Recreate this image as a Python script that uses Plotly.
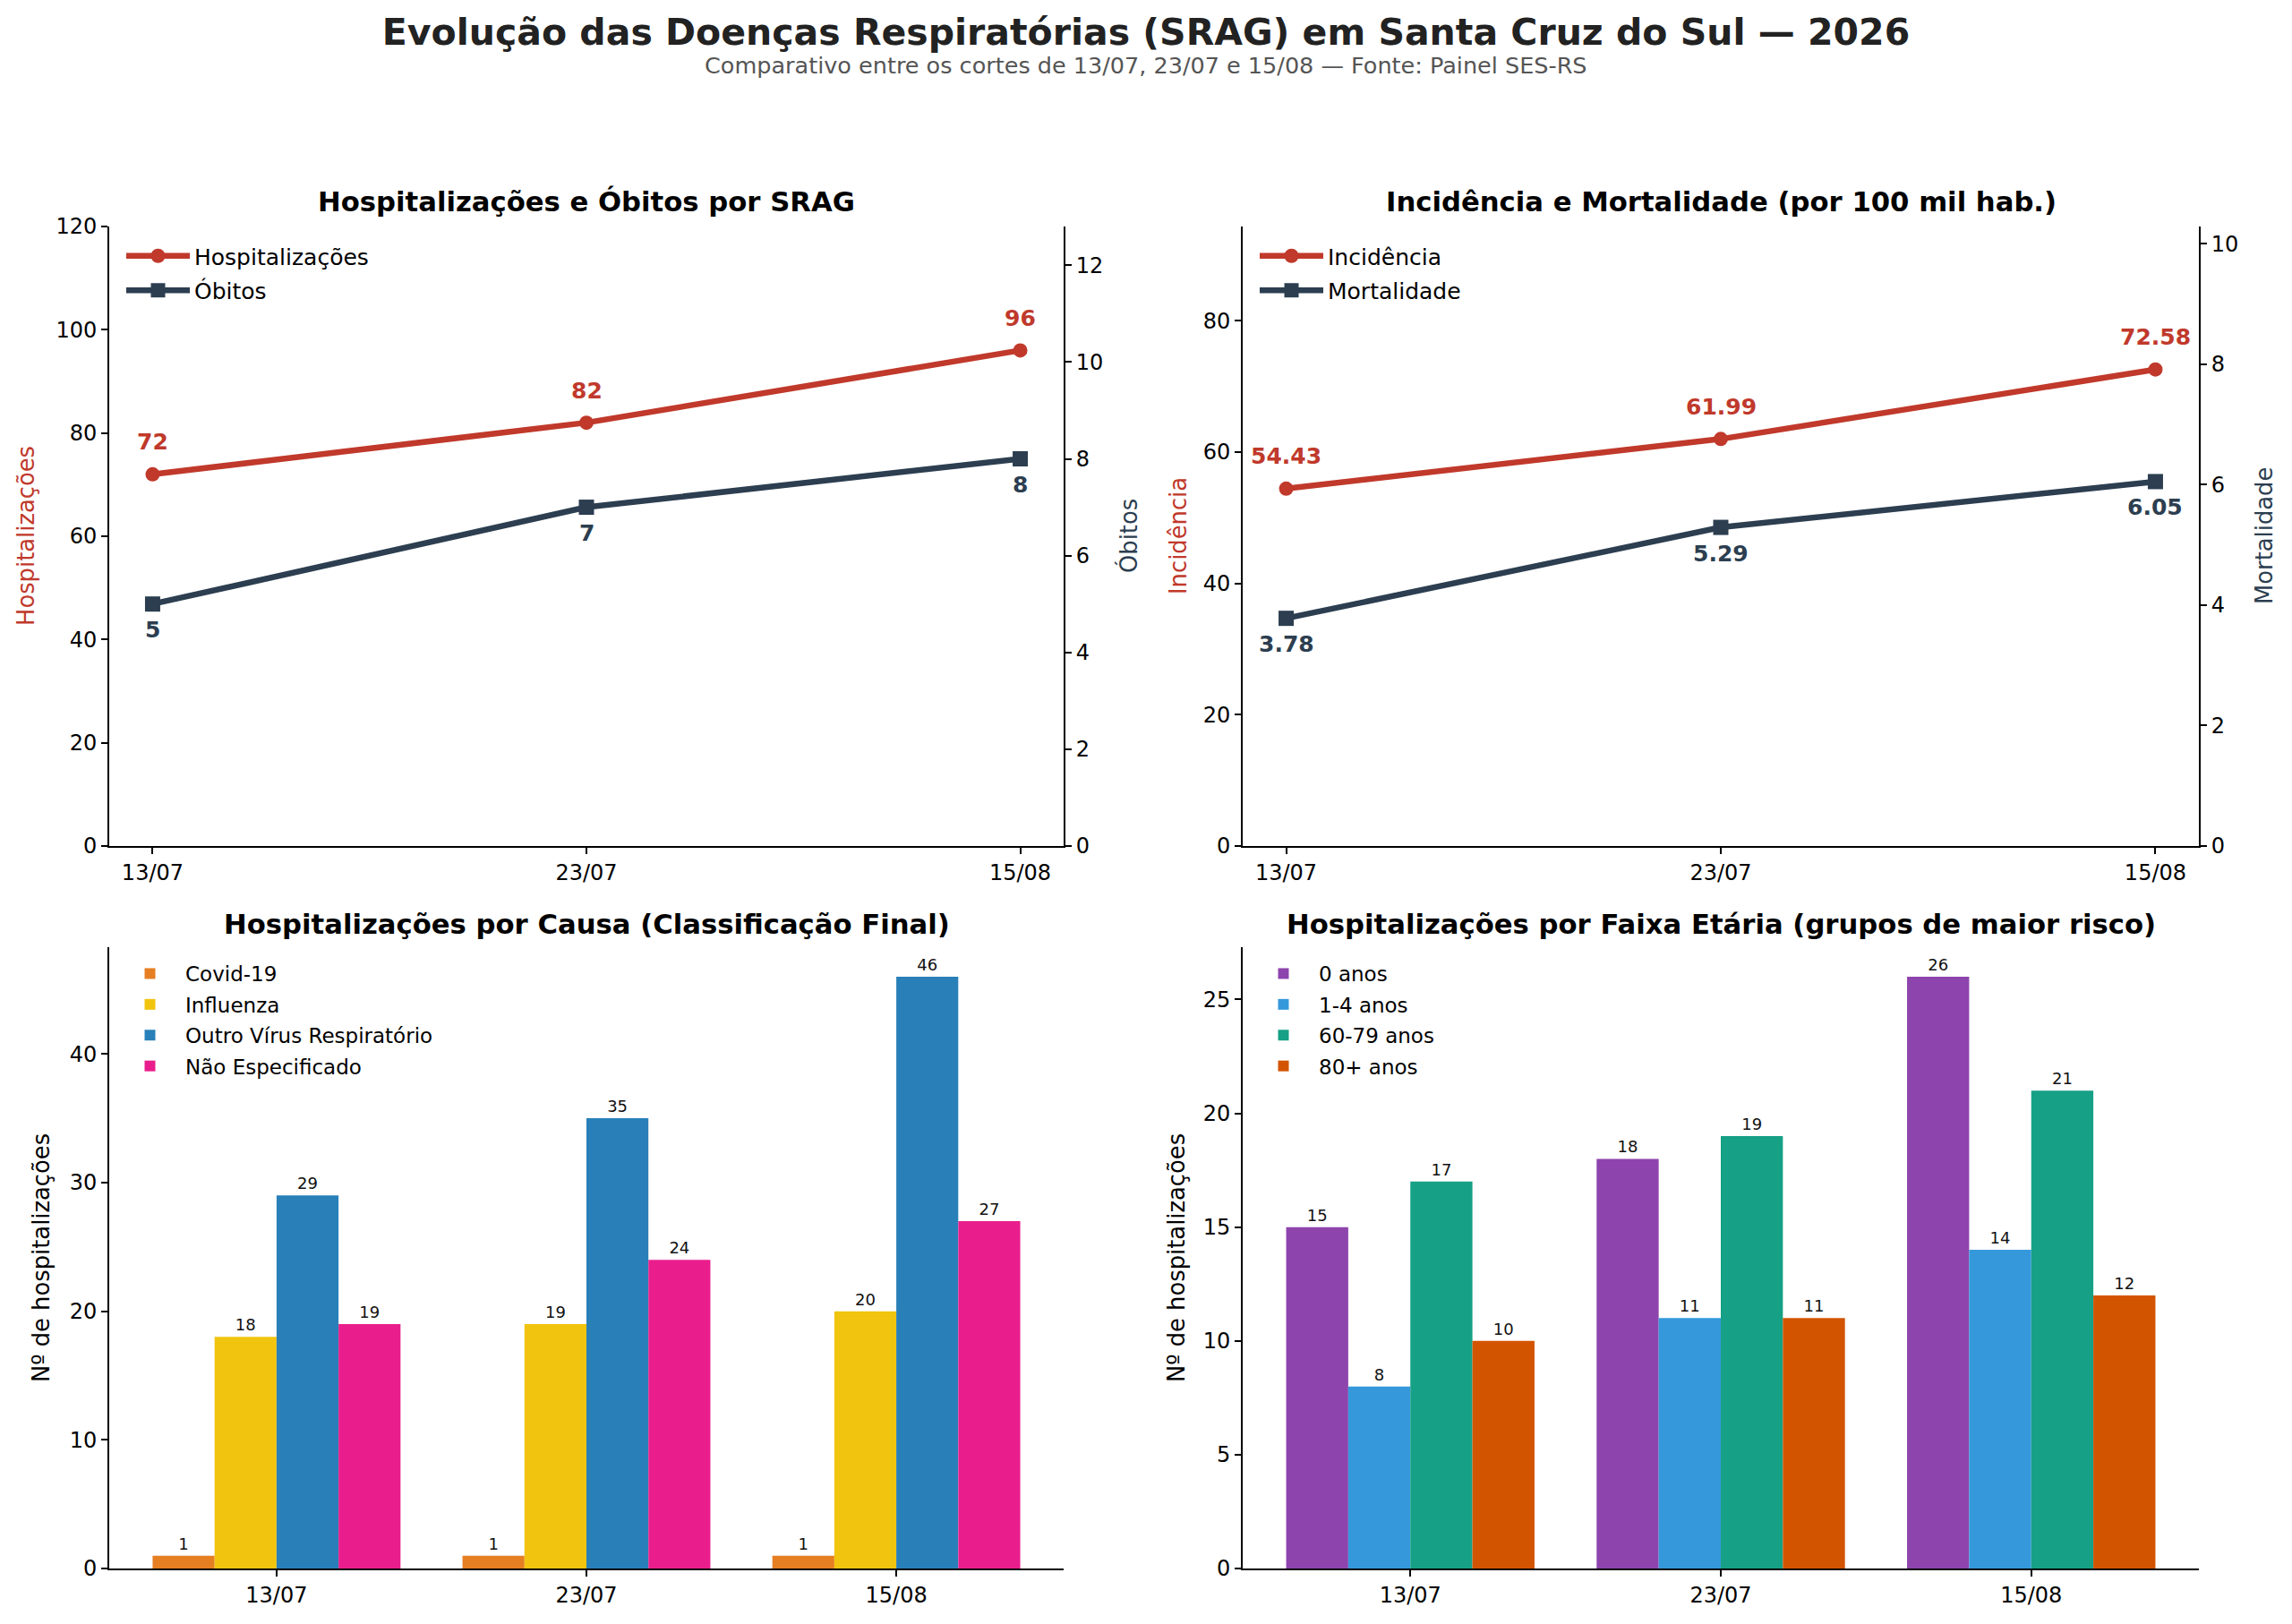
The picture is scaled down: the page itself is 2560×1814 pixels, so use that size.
import plotly.graph_objects as go

# dados dos cortes (Painel SES-RS)
cortes = ["13/07", "23/07", "15/08"]

hospitalizacoes = [72, 82, 96]
obitos = [5, 7, 8]

incidencia = [54.43, 61.99, 72.58]
mortalidade = [3.78, 5.29, 6.05]

causa_nomes = ["Covid-19", "Influenza", "Outro Vírus Respiratório", "Não Especificado"]
covid = [1, 1, 1]
influenza = [18, 19, 20]
outro_virus = [29, 35, 46]
nao_especificado = [19, 24, 27]

faixa_nomes = ["0 anos", "1-4 anos", "60-79 anos", "80+ anos"]
idade_0 = [15, 18, 26]
idade_1_4 = [8, 11, 14]
idade_60_79 = [17, 19, 21]
idade_80 = [10, 11, 12]

W, H = 2560, 1814
FONT = "DejaVu Sans"
RED = "#c0392b"
DARK = "#2c3e50"
causa_cores = ["#e67e22", "#f1c40f", "#2980b9", "#e91e8c"]
faixa_cores = ["#8e44ad", "#3498db", "#16a085", "#d35400"]


def px_x(v):
    return v / W


def px_y(v):
    return 1 - v / H


# dominios dos quatro paineis (em pixels da imagem)
dom_left = [px_x(122), px_x(1188)]
dom_right = [px_x(1388), px_x(2456)]
dom_top = [px_y(945), px_y(253)]
dom_bot = [px_y(1752), px_y(1058)]

fig = go.Figure()

# --- painel 1: hospitalizacoes e obitos
fig.add_scatter(x=cortes, y=hospitalizacoes, name="Hospitalizações", mode="lines+markers",
                line=dict(color=RED, width=6.5), marker=dict(symbol="circle", size=16, color=RED),
                xaxis="x", yaxis="y", legend="legend", legendgroup="a1")
fig.add_scatter(x=cortes, y=obitos, name="Óbitos", mode="lines+markers",
                line=dict(color=DARK, width=6.5), marker=dict(symbol="square", size=17, color=DARK),
                xaxis="x", yaxis="y2", legend="legend", legendgroup="a2")

# --- painel 2: incidencia e mortalidade
fig.add_scatter(x=cortes, y=incidencia, name="Incidência", mode="lines+markers",
                line=dict(color=RED, width=6.5), marker=dict(symbol="circle", size=16, color=RED),
                xaxis="x2", yaxis="y3", legend="legend2", legendgroup="b1")
fig.add_scatter(x=cortes, y=mortalidade, name="Mortalidade", mode="lines+markers",
                line=dict(color=DARK, width=6.5), marker=dict(symbol="square", size=17, color=DARK),
                xaxis="x2", yaxis="y4", legend="legend2", legendgroup="b2")

# --- painel 3: por causa
for nome, vals, cor in zip(causa_nomes, [covid, influenza, outro_virus, nao_especificado], causa_cores):
    fig.add_bar(x=cortes, y=vals, name=nome, marker=dict(color=cor, line=dict(width=0)),
                text=[str(v) for v in vals], textposition="outside", cliponaxis=False,
                textfont=dict(size=18, color="#111111", family=FONT),
                xaxis="x3", yaxis="y5", legend="legend3", legendgroup="c" + nome)

# --- painel 4: por faixa etaria
for nome, vals, cor in zip(faixa_nomes, [idade_0, idade_1_4, idade_60_79, idade_80], faixa_cores):
    fig.add_bar(x=cortes, y=vals, name=nome, marker=dict(color=cor, line=dict(width=0)),
                text=[str(v) for v in vals], textposition="outside", cliponaxis=False,
                textfont=dict(size=18, color="#111111", family=FONT),
                xaxis="x4", yaxis="y6", legend="legend4", legendgroup="d" + nome)

annotations = []

# rotulos de valor nas linhas
for xs, ys, yref, color, shift, fmt in [
    (cortes, hospitalizacoes, "y", RED, 36, "{:d}"),
    (cortes, obitos, "y2", DARK, -29, "{:d}"),
    (cortes, incidencia, "y3", RED, 36, "{:.2f}"),
    (cortes, mortalidade, "y4", DARK, -29, "{:.2f}"),
]:
    xref = "x" if yref in ("y", "y2") else "x2"
    for xv, yv in zip(xs, ys):
        annotations.append(dict(x=xv, y=yv, xref=xref, yref=yref, text=fmt.format(yv),
                                showarrow=False, yshift=shift,
                                font=dict(family=FONT, size=25, color=color, weight="bold")))

# titulos dos paineis
sub_titles = [
    ("Hospitalizações e Óbitos por SRAG", dom_left, 225),
    ("Incidência e Mortalidade (por 100 mil hab.)", dom_right, 225),
    ("Hospitalizações por Causa (Classificação Final)", dom_left, 1032),
    ("Hospitalizações por Faixa Etária (grupos de maior risco)", dom_right, 1032),
]
for txt, dom, ypx in sub_titles:
    annotations.append(dict(x=(dom[0] + dom[1]) / 2, y=px_y(ypx), xref="paper", yref="paper",
                            text="<b>" + txt + "</b>", showarrow=False,
                            xanchor="center", yanchor="middle",
                            font=dict(family=FONT, size=30.7, color="black")))

# titulos dos eixos y
axis_titles = [
    ("Hospitalizações", 29, 599, RED),
    ("Óbitos", 1260, 599, DARK),
    ("Incidência", 1316, 599, RED),
    ("Mortalidade", 2529, 599, DARK),
    ("Nº de hospitalizações", 46, 1405, "black"),
    ("Nº de hospitalizações", 1314, 1405, "black"),
]
for txt, xpx, ypx, color in axis_titles:
    annotations.append(dict(x=px_x(xpx), y=px_y(ypx), xref="paper", yref="paper", text=txt,
                            textangle=-90, showarrow=False, xanchor="center", yanchor="middle",
                            font=dict(family=FONT, size=25.8, color=color)))

# subtitulo
annotations.append(dict(x=0.5, y=px_y(73), xref="paper", yref="paper",
                        text="Comparativo entre os cortes de 13/07, 23/07 e 15/08 — Fonte: Painel SES-RS",
                        showarrow=False, xanchor="center", yanchor="middle",
                        font=dict(family=FONT, size=25.5, color="#555555")))

axis_style = dict(showline=True, linecolor="black", linewidth=1.7, showgrid=False, zeroline=False,
                  ticks="outside", ticklen=7, tickwidth=1.7, tickcolor="black",
                  tickfont=dict(family=FONT, size=24, color="black"))

legend_style = dict(xanchor="left", yanchor="top", bgcolor="rgba(0,0,0,0)", traceorder="grouped")

fig.update_layout(
    width=W, height=H,
    margin=dict(l=0, r=0, t=0, b=0, autoexpand=False),
    paper_bgcolor="white", plot_bgcolor="white",
    font=dict(family=FONT, color="black"),
    title=dict(text="<b>Evolução das Doenças Respiratórias (SRAG) em Santa Cruz do Sul — 2026</b>",
               x=0.5, xanchor="center", y=px_y(36), yanchor="middle", yref="container",
               font=dict(family=FONT, size=41, color="#222222")),
    barmode="group", bargap=0.2, bargroupgap=0,
    annotations=annotations,
    xaxis=dict(domain=dom_left, anchor="y", range=[-0.1, 2.1], **axis_style),
    yaxis=dict(domain=dom_top, anchor="x", range=[0, 120], dtick=20, **axis_style),
    yaxis2=dict(overlaying="y", side="right", anchor="x", range=[0, 12.8], dtick=2, **axis_style),
    xaxis2=dict(domain=dom_right, anchor="y3", range=[-0.1, 2.1], **axis_style),
    yaxis3=dict(domain=dom_top, anchor="x2", range=[0, 94.35], dtick=20, **axis_style),
    yaxis4=dict(overlaying="y3", side="right", anchor="x2", range=[0, 10.285], dtick=2, **axis_style),
    xaxis3=dict(domain=dom_left, anchor="y5", range=[-0.54, 2.54], **axis_style),
    yaxis5=dict(domain=dom_bot, anchor="x3", range=[0, 48.3], dtick=10, **axis_style),
    xaxis4=dict(domain=dom_right, anchor="y6", range=[-0.54, 2.54], **axis_style),
    yaxis6=dict(domain=dom_bot, anchor="x4", range=[0, 27.3], dtick=5, **axis_style),
    legend=dict(x=px_x(136), y=px_y(263), font=dict(family=FONT, size=25), itemwidth=71,
                tracegroupgap=3, **legend_style),
    legend2=dict(x=px_x(1402), y=px_y(263), font=dict(family=FONT, size=25), itemwidth=71,
                 tracegroupgap=3, **legend_style),
    legend3=dict(x=px_x(128), y=px_y(1066), font=dict(family=FONT, size=23), itemwidth=69,
                 tracegroupgap=1.5, **legend_style),
    legend4=dict(x=px_x(1394), y=px_y(1066), font=dict(family=FONT, size=23), itemwidth=69,
                 tracegroupgap=1.5, **legend_style),
)

# sem margem do body: a figura ocupa a janela inteira
fig.write_html("out.html", config=dict(displayModeBar=False),
               post_script="document.body.style.margin='0';")
